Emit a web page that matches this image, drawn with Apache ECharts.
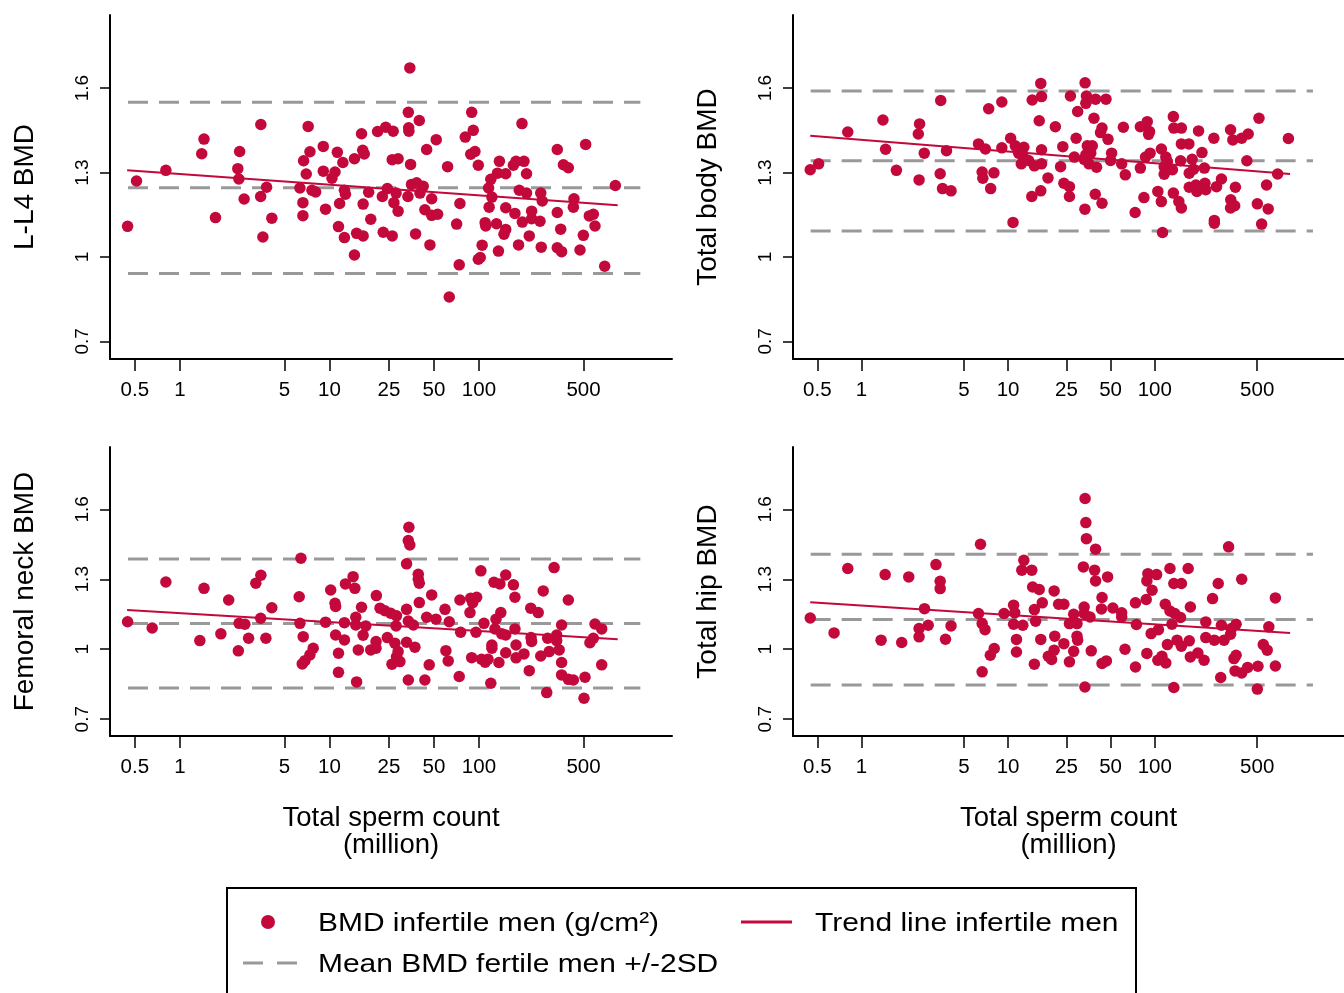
<!DOCTYPE html>
<html><head><meta charset="utf-8">
<style>html,body{margin:0;padding:0;background:#fff}#c{width:1344px;height:993px}</style>
<script src="https://cdn.jsdelivr.net/npm/echarts@6/dist/echarts.min.js"></script>
</head><body><div id="c"></div>
<script>
// ---------- DATA ----------
const xTicks = [0.5, 1, 5, 10, 25, 50, 100, 500];
const yTicks = [0.7, 1, 1.3, 1.6];
const panelTitles = ['L-L4 BMD', 'Total body BMD', 'Femoral neck BMD', 'Total hip BMD'];
const xTitle = 'Total sperm count\n(million)';

// [total sperm count (million), BMD g/cm2]
const spineData = [[0.447,1.109],[0.513,1.27],[0.806,1.308],[1.45,1.419],[1.40,1.367],[1.73,1.14],[2.51,1.375],[2.44,1.314],[2.48,1.277],[2.69,1.206],[3.48,1.471],[3.47,1.215],[3.80,1.248],[4.12,1.138],[3.59,1.071],[7.21,1.464],[7.41,1.374],[6.72,1.342],[7.0,1.295],[6.35,1.245],[6.65,1.193],[6.65,1.147],[7.64,1.237],[8.09,1.231],[9.1,1.393],[9.1,1.305],[9.42,1.17],[11.3,1.372],[12.3,1.336],[10.9,1.302],[10.4,1.28],[12.6,1.237],[12.8,1.223],[11.7,1.19],[11.5,1.108],[12.6,1.069],[14.7,1.007],[14.7,1.349],[16.4,1.438],[16.7,1.379],[17.1,1.366],[18.3,1.23],[16.8,1.188],[18.9,1.134],[15.2,1.084],[16.8,1.075],[21.0,1.446],[23.8,1.461],[26.7,1.447],[26.3,1.346],[28.8,1.349],[24.4,1.243],[22.6,1.215],[27.0,1.193],[28.8,1.163],[27.9,1.227],[22.9,1.088],[26.3,1.075],
[34.5,1.672],[33.7,1.514],[39.9,1.485],[33.9,1.459],[34.0,1.447],[34.9,1.329],[44.7,1.382],[51.8,1.417],[61.7,1.321],[89.4,1.514],[91.6,1.45],[81.0,1.426],[94.0,1.375],[88.1,1.365],[99,1.326],[194,1.474],[137,1.34],[133,1.298],[151,1.296],[170,1.326],[177,1.34],[200,1.34],[208,1.296],[120,1.276],[116,1.245],[122,1.213],[186,1.237],[208,1.227],[259,1.227],[265,1.199],[334,1.382],[517,1.40],[367,1.328],[396,1.317],[432,1.207],[428,1.177],[817,1.254],[35.4,1.258],[38.3,1.264],[42.4,1.251],[40.3,1.227],[33.5,1.215],[48.3,1.207],[43.5,1.168],[48.3,1.148],[52.9,1.152],[74.6,1.19],[70.9,1.117],[37.7,1.082],[47.0,1.043],[73.8,0.972],[63.3,0.858],[117,1.177],[110,1.122],[111,1.11],[131,1.118],[151,1.098],[147,1.081],[105,1.042],[102,0.998],[99,0.992],[135,1.021],[151,1.175],[174,1.155],[195,1.124],[225,1.163],[225,1.136],[256,1.127],[217,1.075],[184,1.043],[261,1.035],[334,1.158],[352,1.099],[334,1.033],[357,1.019],[474,1.025],[499,1.077],[547,1.146],[582,1.152],[597,1.11],[693,0.967]];

const bodyData = [[0.447,1.31],[0.51,1.331],[0.806,1.444],[1.40,1.487],[1.46,1.383],[1.73,1.308],[2.49,1.473],[2.44,1.437],[2.68,1.369],[2.47,1.274],[3.47,1.556],[3.80,1.378],[3.44,1.296],[3.57,1.243],[4.08,1.235],[7.37,1.527],[9.06,1.551],[6.28,1.402],[7.0,1.384],[9.06,1.388],[6.65,1.302],[6.72,1.28],[8.0,1.299],[7.6,1.243],[10.8,1.123],[10.4,1.422],[11.2,1.395],[12.8,1.39],[11.8,1.369],[12.6,1.359],[12.3,1.331],[13.8,1.343],[15.1,1.324],[16.9,1.331],[16.9,1.381],[16.3,1.484],[14.6,1.558],[16.9,1.57],[16.7,1.617],[21.0,1.463],[18.7,1.281],[14.5,1.215],[16.7,1.235],[23.6,1.392],[22.8,1.321],[24.0,1.262],
[26.2,1.25],[26.2,1.215],[33.5,1.619],[26.6,1.572],[34.2,1.572],[33.9,1.546],[39.5,1.561],[46.5,1.561],[29.8,1.517],[38.5,1.493],[43.7,1.458],[42.7,1.442],[48.0,1.418],[29.1,1.422],[34.7,1.395],[37.5,1.395],[36.6,1.369],[33.9,1.363],[28.3,1.355],[33.0,1.347],[35.6,1.331],[40.1,1.319],[50.8,1.369],[50.0,1.343],[59.5,1.331],[61.1,1.461],[63.0,1.292],[39.3,1.223],[43.7,1.191],[33.4,1.17],[79.8,1.463],[88.9,1.481],[92.2,1.446],[90.8,1.436],[86.6,1.355],[93.0,1.369],[79.8,1.316],[84.4,1.211],[73.5,1.158],[111,1.384],[119,1.355],[122,1.339],[116,1.321],[116,1.294],[132,1.31],[105,1.233],[111,1.197],[113,1.087],[134,1.499],[135,1.458],[152,1.458],[152,1.402],[171,1.402],[150,1.342],[180,1.347],[184,1.312],[172,1.298],[199,1.448],[210,1.371],[218,1.316],[134,1.227],[146,1.197],[152,1.174],[172,1.248],[191,1.256],[194,1.233],[220,1.262],[223,1.239],[253,1.422],[285,1.277],[264,1.25],[255,1.13],[255,1.12],[329,1.452],[341,1.416],[392,1.422],[434,1.437],[514,1.493],[425,1.342],[355,1.248],[330,1.203],[351,1.182],[329,1.174],[501,1.189],[579,1.256],[594,1.171],[536,1.117],[689,1.295],[816,1.421]];

const neckData = [[0.447,1.118],[0.653,1.091],[0.806,1.288],[1.45,1.261],[1.36,1.037],[1.88,1.066],[2.12,1.211],[2.46,0.993],[2.49,1.111],[2.72,1.107],[2.88,1.047],[3.22,1.283],[3.48,1.317],[3.47,1.133],[3.76,1.047],[4.12,1.178],[6.45,1.39],[6.28,1.225],[6.35,1.111],[6.68,1.054],[7.79,1.004],[7.41,0.976],[6.86,0.951],[6.58,0.937],[9.42,1.116],[10.2,1.254],[10.9,1.197],[11.0,1.183],[11.0,1.061],[12.6,1.04],[11.5,0.983],[11.5,0.901],[12.6,1.114],[12.8,1.28],[14.4,1.311],[14.8,1.261],[15.0,1.137],[15.0,1.104],[17.5,1.1],[16.8,1.06],[16.4,1.18],[15.6,0.997],[15.2,0.86],[20.6,1.23],[21.8,1.176],[23.5,1.165],[25.7,1.154],[28.1,1.143],[24.4,1.05],[27.9,1.1],[20.5,1.033],[18.9,0.997],[20.5,1.004],[27.4,1.026],[28.1,0.968],[26.2,0.936],
[28.8,0.99],[29.6,0.947],[34.0,1.523],[33.7,1.466],[34.5,1.447],[32.8,1.366],[39.3,1.321],[39.3,1.3],[39.9,1.283],[39.9,1.2],[48.3,1.233],[32.8,1.171],[33.7,1.121],[36.4,1.104],[44.7,1.137],[51.6,1.129],[32.8,1.03],[37.3,1.009],[46.5,0.933],[33.7,0.868],[43.5,0.868],[59.3,1.171],[63.3,1.118],[74.6,1.211],[75.4,1.073],[60.1,0.994],[62.3,0.95],[73.8,0.883],[88.1,1.219],[96.5,1.223],[90.8,1.2],[87.1,1.157],[103,1.336],[126,1.287],[138,1.28],[151,1.318],[170,1.276],[174,1.223],[140,1.157],[130,1.129],[108,1.111],[95.5,1.073],[128,1.087],[142,1.066],[151,1.061],[174,1.087],[122,1.018],[122,1.004],[177,1.018],[151,0.985],[200,0.98],[177,0.963],[89.4,0.964],[104,0.957],[110,0.944],[115,0.957],[136,0.943],[120,0.854],[217,0.908],[222,1.176],[249,1.157],[269,1.25],[318,1.35],[396,1.211],[357,1.104],[223,1.05],[225,1.033],[288,1.047],[295,0.99],[331,1.061],[331,1.037],[344,0.997],[259,0.971],[357,0.943],[357,0.89],[396,0.871],[428,0.868],[512,0.88],[284,0.814],[504,0.79],[597,1.108],[662,1.087],[582,1.047],[552,1.028],[662,0.933]];

const hipData = [[0.447,1.134],[0.65,1.07],[0.806,1.346],[1.45,1.32],[2.10,1.31],[1.36,1.039],[1.88,1.029],[3.22,1.363],[3.44,1.291],[3.44,1.26],[2.69,1.174],[2.47,1.089],[2.47,1.053],[2.85,1.103],[3.74,1.043],[4.08,1.1],[6.48,1.45],[6.28,1.153],[6.65,1.11],[6.96,1.084],[8.04,1.003],[7.56,0.974],[6.65,0.903],[9.38,1.153],[10.9,1.189],[11.1,1.156],[10.9,1.107],[12.6,1.103],[11.4,1.042],[11.4,0.988],[12.8,1.381],[12.4,1.339],[14.5,1.339],[14.7,1.267],[16.3,1.256],[17.1,1.199],[15.1,1.17],[15.4,1.12],[20.6,1.25],[22.1,1.193],[24.0,1.193],[16.7,1.042],[20.8,1.056],[20.6,0.996],[18.8,0.97],[19.8,0.956],[15.1,0.936],[24.0,1.024],
[28.0,0.991],[26.2,0.946],[29.5,1.056],[29.8,1.039],[26.2,1.11],[29.5,1.11],[28.0,1.15],[33.5,1.646],[33.9,1.543],[34.2,1.474],[39.5,1.429],[32.6,1.353],[38.9,1.339],[39.5,1.293],[47.7,1.31],[43.7,1.222],[43.3,1.173],[51.8,1.177],[33.0,1.181],[33.0,1.153],[36.2,1.138],[59.5,1.156],[59.5,1.138],[36.9,0.993],[43.7,0.939],[46.8,0.95],[33.4,0.838],[62.7,1.0],[73.9,1.199],[75.0,1.106],[73.9,0.924],[87.5,1.213],[89.8,1.324],[88.4,1.293],[103,1.32],[95.9,1.253],[94.5,1.067],[106,1.084],[88.4,0.982],[105,0.953],[112,0.97],[119,0.941],[122,1.02],[118,1.193],[127,1.164],[137,1.153],[150,1.136],[131,1.107],[127,1.346],[135,1.282],[152,1.282],[169,1.346],[142,1.039],[152,1.013],[172,1.036],[175,1.181],[135,0.836],[175,0.967],[197,0.984],[217,0.953],[223,1.117],[223,1.05],[255,1.039],[297,1.039],[248,1.217],[271,1.282],[285,1.103],[329,1.064],[333,1.089],[359,1.107],[319,1.439],[392,1.3],[282,0.879],[347,0.96],[359,0.974],[353,0.907],[392,0.898],[430,0.922],[506,0.927],[501,0.829],[550,1.02],[585,0.996],[600,1.096],[665,1.22],[665,0.928]];

// fertile reference: mean-2SD, mean, mean+2SD
const spineRef = [0.941, 1.246, 1.550];
const bodyRef  = [1.092, 1.342, 1.590];
const neckRef  = [0.834, 1.110, 1.387];
const hipRef   = [0.847, 1.127, 1.407];
const refSpan = [0.45, 1200];

// trend line end points [count, BMD]
const spineTrend = [[0.444, 1.308], [847, 1.184]];
const bodyTrend  = [[0.447, 1.431], [838, 1.295]];
const neckTrend  = [[0.444, 1.168], [847, 1.043]];
const hipTrend   = [[0.447, 1.2015], [838, 1.070]];

const legendLabels = ['BMD infertile men (g/cm²)', 'Trend line infertile men', 'Mean BMD fertile men +/-2SD'];

// ---------- STYLE ----------
const RED = '#c3083b';
const GREY = '#999999';
const FONT = '"Liberation Sans", Arial, Helvetica, sans-serif';
const L = Math.log10;

const panels = [
  {data: spineData, ref: spineRef, trend: spineTrend, grid: {left:110, top:15, width:562, height:344}, yr:[0.6375,1.86], xname:false},
  {data: bodyData,  ref: bodyRef,  trend: bodyTrend,  grid: {left:793, top:15, width:562, height:344}, yr:[0.6375,1.86], xname:false},
  {data: neckData,  ref: neckRef,  trend: neckTrend,  grid: {left:110, top:447, width:562, height:289}, yr:[0.628,1.867], xname:true},
  {data: hipData,   ref: hipRef,   trend: hipTrend,   grid: {left:793, top:447, width:562, height:289}, yr:[0.628,1.867], xname:true}
];

const grids = [], xAxes = [], yAxes = [], series = [];
panels.forEach((p, i) => {
  grids.push(Object.assign({containLabel:false}, p.grid));
  xAxes.push({
    type:'value', gridIndex:i, min:L(0.341), max:L(1954),
    name: p.xname ? xTitle : '', nameLocation:'middle', nameGap:69,
    nameTextStyle:{fontFamily:FONT, fontSize:27.5, color:'#000', lineHeight:27, verticalAlign:'top'},
    axisLine:{show:true, onZero:false, lineStyle:{color:'#000', width:2}},
    axisTick:{show:true, length:12, lineStyle:{color:'#000', width:1.5}, customValues: xTicks.map(L)},
    axisLabel:{show:true, margin:21, fontFamily:FONT, fontSize:20.5, color:'#000',
      customValues: xTicks.map(L),
      formatter: v => String(Math.round(Math.pow(10, v) * 10) / 10)},
    splitLine:{show:false}
  });
  yAxes.push({
    type:'value', gridIndex:i, min:p.yr[0], max:p.yr[1],
    name: panelTitles[i], nameLocation:'middle', nameGap:71, nameRotate:90,
    nameTextStyle:{fontFamily:FONT, fontSize:28, color:'#000'},
    axisLine:{show:true, onZero:false, lineStyle:{color:'#000', width:2}},
    axisTick:{show:true, length:10, lineStyle:{color:'#000', width:1.5}, customValues: yTicks},
    axisLabel:{show:true, rotate:90, margin:18, fontFamily:FONT, fontSize:19, color:'#000',
      customValues: yTicks, formatter: v => String(v)},
    splitLine:{show:false}
  });
  p.ref.forEach(v => {
    series.push({type:'line', xAxisIndex:i, yAxisIndex:i, silent:true, symbol:'none', z:1,
      data: refSpan.map(x => [L(x), v]),
      lineStyle:{color:GREY, width:3, type:[20, 11]}});
  });
  series.push({type:'scatter', xAxisIndex:i, yAxisIndex:i, symbolSize:11.5, z:3,
    itemStyle:{color:RED, opacity:1},
    data: p.data.map(d => [L(d[0]), d[1]])});
  series.push({type:'line', xAxisIndex:i, yAxisIndex:i, symbol:'none', z:4,
    data: p.trend.map(d => [L(d[0]), d[1]]),
    lineStyle:{color:RED, width:2}});
});

const legendText = (x, y, t) => ({type:'text', x:x, y:y, scaleX:1.13, originX:0, originY:0,
  style:{text:t, fontFamily:FONT, fontSize:26.5, fill:'#000', verticalAlign:'middle', x:0, y:0}});

const chart = echarts.init(document.getElementById('c'), null, {renderer:'canvas'});
chart.setOption({
  animation:false,
  backgroundColor:'#fff',
  grid: grids, xAxis: xAxes, yAxis: yAxes, series: series,
  graphic: [
    {type:'rect', shape:{x:227, y:888, width:909, height:130}, style:{fill:'none', stroke:'#000', lineWidth:2}},
    {type:'circle', shape:{cx:268, cy:922, r:7}, style:{fill:RED}},
    legendText(318, 924, legendLabels[0]),
    {type:'line', shape:{x1:741, y1:922, x2:792, y2:922}, style:{stroke:RED, lineWidth:3}},
    legendText(815, 924, legendLabels[1]),
    {type:'line', shape:{x1:243, y1:963, x2:297, y2:963}, style:{stroke:GREY, lineWidth:3, lineDash:[20, 14]}},
    legendText(318, 965, legendLabels[2])
  ]
});
</script></body></html>
